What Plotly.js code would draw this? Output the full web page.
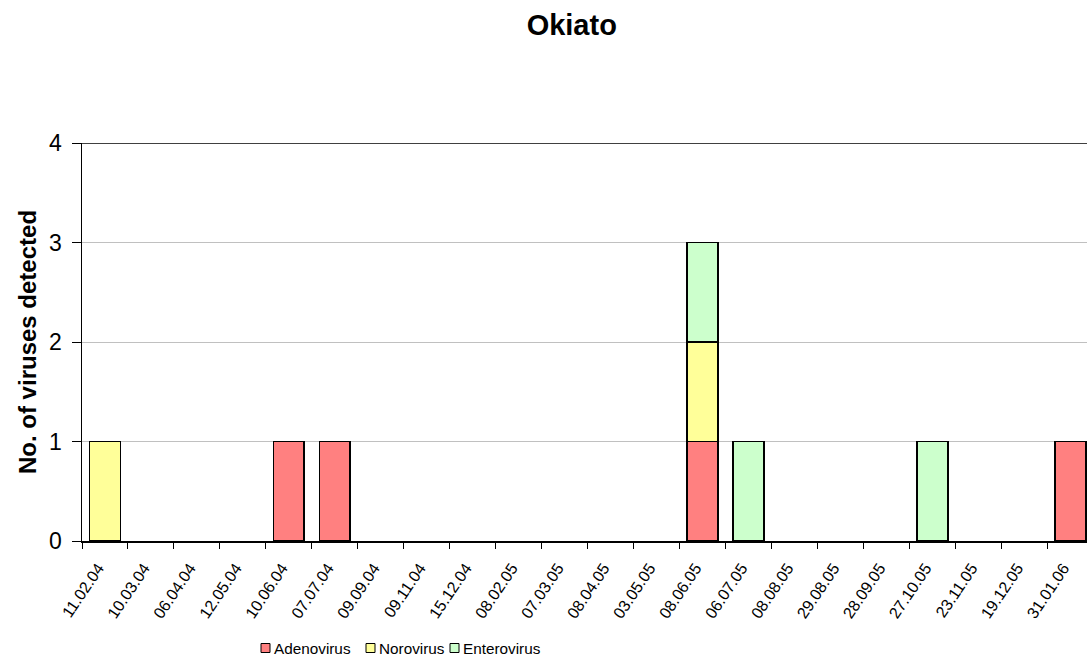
<!DOCTYPE html>
<html>
<head>
<meta charset="utf-8">
<script src="https://cdn.plot.ly/plotly-3.0.1.min.js"></script>
<style>html,body{margin:0;padding:0;background:#fff;overflow:hidden}#chart{width:1087px;height:659px}</style>
</head>
<body>
<div id="chart"></div>
<script>
const dates = ["11.02.04","10.03.04","06.04.04","12.05.04","10.06.04","07.07.04","09.09.04","09.11.04","15.12.04","08.02.05","07.03.05","08.04.05","03.05.05","08.06.05","06.07.05","08.08.05","29.08.05","28.09.05","27.10.05","23.11.05","19.12.05","31.01.06"];
const adenovirus  = [0,0,0,0,1,1,0,0,0,0,0,0,0,1,0,0,0,0,0,0,0,1];
const norovirus   = [1,0,0,0,0,0,0,0,0,0,0,0,0,1,0,0,0,0,0,0,0,0];
const enterovirus = [0,0,0,0,0,0,0,0,0,0,0,0,0,1,1,0,0,0,1,0,0,0];
const seriesNames = ["Adenovirus","Norovirus","Enterovirus"];
const seriesColors = ["#FF8080","#FFFF99","#CCFFCC"];
const yTicks = [0,1,2,3,4];

// plot-area geometry (pixels)
const PL = 82, PR = 1087, PT = 143, PB = 541;
const px = x => (x - PL) / (PR - PL);
const py = y => (PB - y) / (PB - PT);

const allSeries = [adenovirus, norovirus, enterovirus];
const traces = allSeries.map((vals, i) => ({
  type: "bar",
  x: dates,
  y: vals.map(v => v === 0 ? null : v),
  name: seriesNames[i],
  marker: {color: seriesColors[i], line: {color: "#000", width: 1.7}},
  showlegend: false
}));

// manual compact legend (Excel style)
const legendSquareX = [261, 366, 450];
const legendY = 648, sq = 9;
const shapes = [{type: "line", xref: "paper", yref: "y", x0: 0, x1: 1, y0: 4, y1: 4, line: {color: "#000", width: 1.5}}];
const annotations = [];
seriesNames.forEach((n, i) => {
  const x0 = legendSquareX[i];
  shapes.push({type: "rect", xref: "paper", yref: "paper",
    x0: px(x0), x1: px(x0 + sq), y0: py(legendY - sq / 2), y1: py(legendY + sq / 2),
    fillcolor: seriesColors[i], line: {color: "#000", width: 1}});
  annotations.push({xref: "paper", yref: "paper", x: px(x0 + sq + 2), y: py(legendY),
    xanchor: "left", yanchor: "middle", showarrow: false, text: n,
    font: {size: 15.3, color: "#000"}});
});

const layout = {
  width: 1087, height: 659,
  margin: {l: PL, r: 1087 - PR, t: PT, b: 659 - PB},
  paper_bgcolor: "#fff", plot_bgcolor: "#fff",
  barmode: "stack",
  bargap: 0.33,
  font: {family: "Liberation Sans, Arial, sans-serif", color: "#000"},
  title: {text: "<b>Okiato</b>", font: {size: 29, color: "#000"}, xref: "container", x: 0.526, xanchor: "center", y: 0.962, yanchor: "middle"},
  xaxis: {
    type: "category",
    range: [-0.5, 21.36],
    tickson: "boundaries",
    ticks: "outside", ticklen: 6, tickcolor: "#000", tickwidth: 1,
    tickangle: -56,
    tickfont: {size: 16},
    ticklabelstandoff: 10,
    ticklabelshift: -7,
    showline: true, linecolor: "#000", linewidth: 1.5,
    showgrid: false, zeroline: false,
    fixedrange: true
  },
  yaxis: {
    range: [0, 4],
    tickvals: yTicks,
    ticks: "outside", ticklen: 9, tickcolor: "#000",
    tickfont: {size: 23},
    ticklabelstandoff: 5,
    showline: true, linecolor: "#000", linewidth: 1.5,
    showgrid: true, gridcolor: "#c0c0c0", gridwidth: 1,
    zeroline: false,
    title: {text: "<b>No. of viruses detected</b>", font: {size: 24}, standoff: 5},
    fixedrange: true
  },
  shapes: shapes,
  annotations: annotations,
  showlegend: false
};

Plotly.newPlot("chart", traces, layout, {displayModeBar: false, staticPlot: true});
</script>
</body>
</html>
